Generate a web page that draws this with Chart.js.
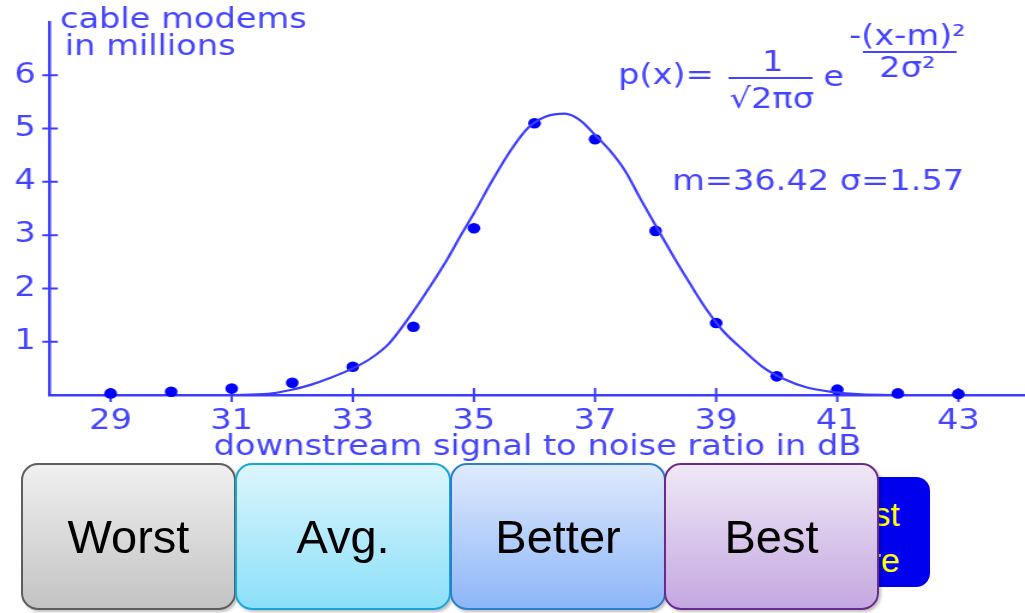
<!DOCTYPE html>
<html>
<head>
<meta charset="utf-8">
<script src="https://cdn.jsdelivr.net/npm/chart.js@4.4.1/dist/chart.umd.min.js"></script>
<style>
  html, body { margin: 0; padding: 0; background: #ffffff; }
  #stage { position: relative; width: 1025px; height: 613px; overflow: hidden; background: #fff; }
  #wrap { position: absolute; left: 0; top: 0; width: 854px; height: 613px; transform: scaleX(1.2002); transform-origin: 0 0; }
  .btn { position: absolute; top: 463px; height: 147px; border-radius: 17px; box-sizing: border-box;
         font-family: Arial, "Liberation Sans", sans-serif; font-size: 47px; color: #000;
         display: flex; align-items: center; justify-content: center; box-shadow: 2px 2px 3px rgba(0,0,0,0.25); }
  #worst  { left: 21px;  width: 215px; border: 2px solid #5e5e5e; background: linear-gradient(#f0f0f0, #c3c3c3); }
  #avg    { left: 235px; width: 216px; border: 2px solid #17a6d6; background: linear-gradient(#dcf5fd, #8be0f9); }
  #better { left: 450px; width: 216px; border: 2px solid #2b7fcf; background: linear-gradient(#dfeafd, #8db6f8); }
  #best   { left: 664px; width: 215px; border: 2px solid #6a2a8c; background: linear-gradient(#efe8f6, #c4a7e0); }
  #hidden { position: absolute; left: 820px; top: 477px; width: 110px; height: 110px; border-radius: 14px;
            background: #0000ee; color: #ffff00; font-family: Arial, "Liberation Sans", sans-serif; font-size: 34px;
            line-height: 46px; text-align: right; padding: 14px 30px 0 0; box-sizing: border-box; }
</style>
</head>
<body>
<div id="stage">
  <div id="wrap"><canvas id="c" width="854" height="613"></canvas></div>
  <div id="hidden">Test<br>Here</div>
  <div class="btn" id="worst">Worst</div>
  <div class="btn" id="avg">Avg.</div>
  <div class="btn" id="better">Better</div>
  <div class="btn" id="best">Best</div>
</div>
<script>
// ---- data ----
const snrDb        = [29, 30, 31, 32, 33, 34, 35, 36, 37, 38, 39, 40, 41, 42, 43];
const modemsMillions = [0.03, 0.06, 0.12, 0.23, 0.53, 1.28, 3.13, 5.10, 4.80, 3.08, 1.35, 0.35, 0.10, 0.03, 0.02];
const fitX = [31.0, 31.6, 32.0, 32.3, 32.6, 33.0, 33.3, 33.6, 33.9, 34.3, 34.55, 34.8, 35.0, 35.3, 35.6, 35.9,
              36.2, 36.5, 36.75, 37.0, 37.25, 37.5, 37.75, 38.0, 38.3, 38.6, 38.85, 39.1, 39.45, 39.8, 40.1, 40.5, 40.9, 41.4, 41.9];
const fitY = [0.0, 0.02, 0.10, 0.19, 0.31, 0.50, 0.69, 0.97, 1.41, 2.08, 2.53, 3.03, 3.41, 4.02, 4.58, 5.02,
              5.23, 5.28, 5.16, 4.88, 4.58, 4.20, 3.68, 3.18, 2.59, 2.03, 1.59, 1.22, 0.84, 0.50, 0.31, 0.14, 0.06, 0.01, 0.0];
const xTickValues = [29, 31, 33, 35, 37, 39, 41, 43];
const yTickValues = [1, 2, 3, 4, 5, 6];
const xAxisTitle = 'downstream signal to noise ratio in dB';
const yAxisTitle = ['cable modems', 'in millions'];
const statsText = 'm=36.42 σ=1.57';

const BLUE = '#3c3cff';
const TEXT = '#4444ff';
const FONT = '"DejaVu Sans", Verdana, sans-serif';

const decor = {
  id: 'decor',
  beforeDatasetsDraw(chart) {
    const ctx = chart.ctx;
    const xs = chart.scales.x, ys = chart.scales.y;
    const y0 = ys.getPixelForValue(0);
    const xl = xs.left;
    ctx.save();
    ctx.strokeStyle = BLUE;
    ctx.lineWidth = 2;
    ctx.beginPath();
    xTickValues.forEach(v => { const p = xs.getPixelForValue(v); ctx.moveTo(p, y0 - 7); ctx.lineTo(p, y0 + 7); });
    yTickValues.forEach(v => { const p = ys.getPixelForValue(v); ctx.moveTo(xl - 6.5, p); ctx.lineTo(xl + 6.5, p); });
    ctx.stroke();
    ctx.restore();
  },
  afterDraw(chart) {
    const ctx = chart.ctx;
    ctx.save();
    ctx.fillStyle = TEXT;
    ctx.strokeStyle = TEXT;
    ctx.font = '28px ' + FONT;
    ctx.textBaseline = 'alphabetic';
    ctx.textAlign = 'left';
    ctx.fillText(yAxisTitle[0], 50, 28);
    ctx.fillText(yAxisTitle[1], 54, 55);
    ctx.fillText(statsText, 560, 190);
    // formula p(x) = 1/(sqrt(2 pi) sigma) e^(-(x-m)^2 / 2 sigma^2)
    ctx.fillText('p(x)=', 515, 84);
    ctx.fillText('e', 686, 86);
    ctx.textAlign = 'center';
    ctx.fillText('1', 644, 71);
    ctx.fillText('√2πσ', 643, 108);
    ctx.fillText('-(x-m)²', 756, 45);
    ctx.fillText('2σ²', 756, 77);
    ctx.lineWidth = 2;
    ctx.beginPath();
    ctx.moveTo(607, 78); ctx.lineTo(677, 78);
    ctx.moveTo(719, 52); ctx.lineTo(797, 52);
    ctx.stroke();
    ctx.restore();
  }
};

new Chart(document.getElementById('c'), {
  type: 'scatter',
  data: {
    datasets: [
      {
        type: 'line',
        data: fitX.map((x, i) => ({ x, y: fitY[i] })),
        borderColor: BLUE,
        borderWidth: 2.2,
        pointRadius: 0,
        cubicInterpolationMode: 'monotone',
        fill: false,
        clip: false
      },
      {
        data: snrDb.map((x, i) => ({ x, y: modemsMillions[i] })),
        backgroundColor: '#0000ff',
        borderColor: '#0000ff',
        pointRadius: 5.3,
        pointBorderWidth: 0,
        showLine: false,
        clip: false
      }
    ]
  },
  options: {
    responsive: false,
    animation: false,
    devicePixelRatio: 1,
    layout: { autoPadding: false, padding: { left: 0, right: 0, top: 22, bottom: 148 } },
    plugins: { legend: { display: false }, tooltip: { enabled: false } },
    scales: {
      x: {
        type: 'linear', min: 28, max: 44.1,
        afterBuildTicks: s => { s.ticks = xTickValues.map(v => ({ value: v })); },
        afterFit: s => { s.height = 70; s.paddingLeft = 0; s.paddingRight = 0; },
        grid: { display: false, drawTicks: false },
        border: { display: true, color: BLUE, width: 2.5 },
        ticks: { color: TEXT, font: { family: FONT, size: 28 }, padding: 10, autoSkip: false, maxRotation: 0 },
        title: { display: true, text: xAxisTitle, color: TEXT, font: { family: FONT, size: 28 }, padding: { top: 0, bottom: 0 } }
      },
      y: {
        type: 'linear', min: 0, max: 7,
        afterBuildTicks: s => { s.ticks = yTickValues.map(v => ({ value: v })); },
        afterFit: s => { s.width = 41.7; s.paddingTop = 0; s.paddingBottom = 0; },
        grid: { display: false, drawTicks: false },
        border: { display: true, color: BLUE, width: 2.5 },
        ticks: { color: TEXT, font: { family: FONT, size: 28 }, padding: 12 }
      }
    }
  },
  plugins: [decor]
});
</script>
</body>
</html>
